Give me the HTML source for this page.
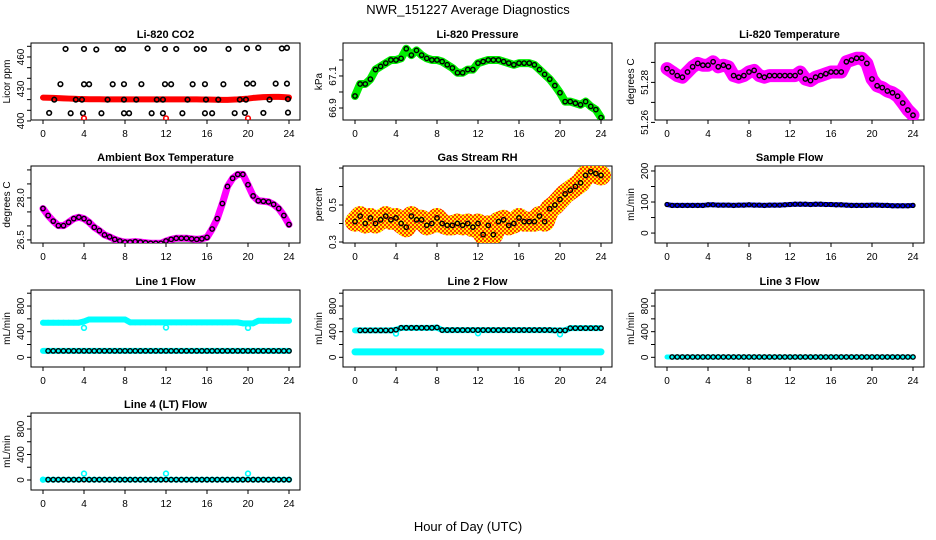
<!DOCTYPE html>
<html><head><meta charset="utf-8"><style>
body{margin:0;background:#fff;}
svg{display:block;font-family:"Liberation Sans",sans-serif;}
</style></head><body>
<svg id="chart" width="936" height="540" viewBox="0 0 936 540">
<defs>
<pattern id="checker" width="4" height="4" patternUnits="userSpaceOnUse">
<rect width="4" height="4" fill="#ffee00"/><rect width="2" height="2" fill="#ff3300"/><rect x="2" y="2" width="2" height="2" fill="#ff3300"/>
</pattern>
</defs>
<text x="468" y="14" text-anchor="middle" font-size="13">NWR_151227  Average Diagnostics</text>
<text x="468" y="531" text-anchor="middle" font-size="13">Hour of Day (UTC)</text>
</svg>
<script>
const hours = [0,0.5,1,1.5,2,2.5,3,3.5,4,4.5,5,5.5,6,6.5,7,7.5,8,8.5,9,9.5,10,10.5,11,11.5,12,12.5,13,13.5,14,14.5,15,15.5,16,16.5,17,17.5,18,18.5,19,19.5,20,20.5,21,21.5,22,22.5,23,23.5,24];
const xTicks = [0,4,8,12,16,20,24];

const co2Red = [421.9,421.8,421.6,421.4,421.2,421.0,420.8,420.6,420.5,420.4,420.3,420.3,420.2,420.2,420.2,420.2,420.2,420.2,420.2,420.2,420.2,420.2,420.2,420.2,420.2,420.2,420.2,420.2,420.2,420.2,420.2,420.1,420.1,420.0,419.9,419.8,419.8,420.0,420.2,420.6,421.0,421.6,422.0,422.3,422.5,422.6,422.6,422.3,422.0];
const co2BlackX = [2.2,4,5.2,7.3,7.8,10.2,11.9,13,15,15.7,18.1,19.9,21,23.3,23.8, 1.7,4,4.5,6.8,7.9,9.6,11.9,12.5,14.6,15.8,17.6,19.9,20.5,22.7,23.8, 1.1,3.2,3.8,6.3,7.9,9.1,11.1,11.7,14.1,15.9,17.1,19.2,19.8,22.1,23.9, 0.6,2.7,3.9,5.7,7.9,8.4,10.6,11.7,13.6,15.8,16.5,18.7,19.7,21.5,23.9];
const co2BlackY = [467.5,467.5,467,467.5,467.5,468,467.5,467.5,467.5,467.5,467.5,468,468.5,468,468.5, 434.5,434.4,434.4,434.4,434.5,434.5,434.5,434.4,434.4,434.5,434.4,435,435,435,435, 420,420,420,420,420,420,420,420,420,420,420,420,420,420,420.5, 407.5,407.2,407.2,407.2,407.2,407.2,407.2,407.2,407.2,407.2,407.2,407.3,407.5,407.5,407.8];
const co2OutlierX = [4,12,20];
const co2OutlierY = [402.5,402.5,402.5];

const pressure = [66.975,67.05,67.05,67.08,67.14,67.16,67.18,67.2,67.2,67.21,67.27,67.23,67.26,67.23,67.21,67.2,67.2,67.19,67.17,67.15,67.12,67.12,67.14,67.14,67.18,67.19,67.2,67.2,67.2,67.19,67.18,67.17,67.18,67.18,67.18,67.17,67.14,67.11,67.08,67.04,66.995,66.94,66.94,66.93,66.92,66.94,66.91,66.89,66.84];
const licorTemp = [51.2869,51.2852,51.2834,51.2826,51.2852,51.2878,51.2895,51.2886,51.2886,51.2903,51.2878,51.2886,51.2878,51.2834,51.2826,51.2834,51.2852,51.286,51.2834,51.2826,51.2834,51.2834,51.2834,51.2834,51.2834,51.2834,51.2852,51.2817,51.2809,51.2826,51.2834,51.2843,51.2852,51.2852,51.2852,51.2903,51.2912,51.2921,51.2921,51.2895,51.2817,51.2783,51.2774,51.2757,51.2748,51.2731,51.2697,51.2662,51.2636];
const ambientTemp = [27.62,27.37,27.17,27.01,27.01,27.13,27.26,27.31,27.26,27.13,26.95,26.83,26.68,26.61,26.52,26.46,26.42,26.42,26.44,26.42,26.40,26.38,26.38,26.38,26.46,26.52,26.56,26.56,26.56,26.54,26.52,26.54,26.59,26.89,27.26,27.80,28.41,28.7,28.84,28.84,28.47,28.07,27.90,27.88,27.86,27.77,27.62,27.37,27.05];
const gasRH = [0.41,0.44,0.40,0.43,0.40,0.42,0.44,0.42,0.43,0.40,0.38,0.44,0.42,0.42,0.39,0.40,0.43,0.40,0.39,0.39,0.40,0.39,0.40,0.38,0.40,0.34,0.39,0.34,0.41,0.42,0.39,0.40,0.43,0.41,0.41,0.41,0.44,0.41,0.48,0.50,0.53,0.56,0.58,0.60,0.62,0.66,0.68,0.67,0.66];
const sampleFlow = [92,89,89,89,89,89,89,89,91,91,90,90,90,89,90,90,91,90,90,89,90,90,90,91,92,93,93,93,92,93,93,92,92,91,91,90,89,89,89,89,90,90,89,89,88,88,88,88,89];
const line1Upper = [540,540,540,540,540,540,540,540,560,590,590,590,590,590,590,590,590,545,545,545,545,545,545,545,545,545,545,545,545,545,545,545,545,545,545,545,545,545,545,530,530,530,570,570,570,570,570,570,570];
const line1Lower = [100,100,100,100,100,100,100,100,100,100,100,100,100,100,100,100,100,100,100,100,100,100,100,100,100,100,100,100,100,100,100,100,100,100,100,100,100,100,100,100,100,100,100,100,100,100,100,100,100];
const line1DipX = [4,12,20];
const line1DipY = [460,465,460];
const line2Upper = [420,420,420,420,420,420,420,420,430,460,460,460,460,460,460,460,465,425,425,425,425,425,425,425,425,425,425,425,425,425,425,425,425,425,425,425,425,425,425,420,420,420,455,455,455,455,455,455,455];
const line2Lower = [85,85,85,85,85,85,85,85,85,85,85,85,85,85,85,85,85,85,85,85,85,85,85,85,85,85,85,85,85,85,85,85,85,85,85,85,85,85,85,85,85,85,85,85,85,85,85,85,85];
const line2DipX = [4,12,20];
const line2DipY = [370,375,360];
const line3Flow = [5,5,5,5,5,5,5,5,5,5,5,5,5,5,5,5,5,5,5,5,5,5,5,5,5,5,5,5,5,5,5,5,5,5,5,5,5,5,5,5,5,5,5,5,5,5,5,5,5];
const line4Cyan = [5,5,5,5,5,5,5,5,100,5,5,5,5,5,5,5,5,5,5,5,5,5,5,5,100,5,5,5,5,5,5,5,5,5,5,5,5,5,5,5,100,5,5,5,5,5,5,5,5];
const line4Black = [5,5,5,5,5,5,5,5,5,5,5,5,5,5,5,5,5,5,5,5,5,5,5,5,5,5,5,5,5,5,5,5,5,5,5,5,5,5,5,5,5,5,5,5,5,5,5,5,5];

const co2Ticks = [400,410,420,430,440,450,460,470]; const co2Labels = [400,430,460];
const presTicks = [66.9,67.0,67.1,67.2]; const presLabels = ["66.9","67.1"];
const tempTicks = [51.26,51.27,51.28,51.29]; const tempLabels = ["51.26","51.28"];
const ambTicks = [26.5,27,27.5,28,28.5,29]; const ambLabels = ["26.5","28.0"];
const rhTicks = [0.3,0.4,0.5,0.6,0.7]; const rhLabels = ["0.3","0.5"];
const sfTicks = [0,50,100,150,200]; const sfLabels = ["0","100","200"];
const flowTicks = [0,200,400,600,800,1000]; const flowLabels = ["0","400","800"];

const NS = "http://www.w3.org/2000/svg";
const svg = document.getElementById('chart');
function mk(tag, attrs, parent){ const e=document.createElementNS(NS,tag); for(const k in attrs) e.setAttribute(k,attrs[k]); (parent||svg).appendChild(e); return e; }

const colX0 = [43,355,667];
const rowTop = [43,166,290,413];
const BOXH = 77;

function panel(col,row,name,title,ylab,ymin,ymax,ticks,labels){
  const g = mk('g',{});
  
  
  const x0 = colX0[col], top = rowTop[row], bot = top+BOXH;
  const left = x0-12, right = x0+257;
  const xs = h => x0 + h/24*246;
  const ys = v => bot - (v-ymin)/(ymax-ymin)*BOXH;
  const box = mk('rect',{x:left,y:top,width:right-left,height:BOXH,fill:'none',stroke:'#000','stroke-width':1},g);
  
  
  const t = mk('text',{x:(left+right)/2,y:top-5,'text-anchor':'middle','font-size':11,'font-weight':'bold'},g);
  t.textContent = title;
  
  
  const yl = mk('text',{transform:`translate(${left-21},${top+BOXH/2}) rotate(-90)`,'text-anchor':'middle','font-size':10},g);
  yl.textContent = ylab;
  
  
  xTicks.forEach(h=>{
    mk('line',{x1:xs(h),x2:xs(h),y1:bot,y2:bot+4,stroke:'#000'},g);
    const tl = mk('text',{x:xs(h),y:bot+17,'text-anchor':'middle','font-size':10},g);
    tl.textContent = h;
    
    
  });
  ticks.forEach(v=>mk('line',{x1:left,x2:left-4,y1:ys(v),y2:ys(v),stroke:'#000'},g));
  labels.forEach(v=>{
    const tl = mk('text',{transform:`translate(${left-7},${ys(+v)}) rotate(-90)`,'text-anchor':'middle','font-size':10},g);
    tl.textContent = v;
    
    
  });
  const cp = 'clip-'+name;
  const c = mk('clipPath',{id:cp},g); mk('rect',{x:left,y:top,width:right-left,height:BOXH},c);
  const dg = mk('g',{'clip-path':`url(#${cp})`},g);
  return {xs,ys,g:dg};
}
function band(p,name,xv,yv,color,w){
  const pts = xv.map((h,i)=>p.xs(h)+','+p.ys(yv[i])).join(' ');
  const l = mk('polyline',{points:pts,fill:'none',stroke:color,'stroke-width':w,'stroke-linejoin':'round','stroke-linecap':'round'},p.g);
  
  
}
function circles(p,name,xv,yv,color,r,sw){
  xv.forEach((h,i)=>{
    const c = mk('circle',{cx:p.xs(h),cy:p.ys(yv[i]),r:r||2.3,fill:'none',stroke:color,'stroke-width':sw||1.5},p.g);
    
    
  });
}

let p;
p = panel(0,0,'co2','Li-820 CO2','Licor ppm',400.9,473.1,co2Ticks,co2Labels);
band(p,'co2-red-series',hours,co2Red,'#ff0000',6);
circles(p,'co2-black-point',co2BlackX,co2BlackY,'#000',2.3,1.6);
circles(p,'co2-red-outlier',co2OutlierX,co2OutlierY,'#ff0000',2.3,1.6);

p = panel(1,0,'pressure','Li-820 Pressure','kPa',66.825,67.306,presTicks,presLabels);
band(p,'pressure-green-band',hours,pressure,'#00ee00',8);
circles(p,'pressure-point',hours,pressure,'#000',2.2,1.4);

p = panel(2,0,'licor-temp','Li-820 Temperature','degrees C',51.2612,51.2997,tempTicks,tempLabels);
band(p,'licor-temp-band',hours,licorTemp,'#ff00ff',13);
circles(p,'licor-temp-point',hours,licorTemp,'#000',2.2,1.4);

p = panel(0,1,'ambient','Ambient Box Temperature','degrees C',26.39,29.14,ambTicks,ambLabels);
band(p,'ambient-band',hours,ambientTemp,'#ff00ff',7);
circles(p,'ambient-point',hours,ambientTemp,'#000',2.2,1.4);

p = panel(1,1,'gas-rh','Gas Stream RH','percent',0.2946,0.711,rhTicks,rhLabels);
band(p,'gas-rh-band',hours,gasRH,'url(#checker)',20);
circles(p,'gas-rh-point',hours,gasRH,'#000',2.2,1.4);

p = panel(2,1,'sample-flow','Sample Flow','mL/min',-32,216,sfTicks,sfLabels);
band(p,'sample-flow-band',hours,sampleFlow,'#0000ff',5);
circles(p,'sample-flow-point',hours,sampleFlow,'#000',2,1.3);

p = panel(0,2,'line1','Line 1 Flow','mL/min',-151,1050,flowTicks,flowLabels);
band(p,'line1-upper-band',hours,line1Upper,'#00ffff',6);
circles(p,'line1-upper-point',hours,line1Upper,'#00ffff',2.2,1.4);
circles(p,'line1-dip-point',line1DipX,line1DipY,'#00ffff',2.4,1.6);
band(p,'line1-lower-band',hours,line1Lower,'#00ffff',6);
circles(p,'line1-lower-point',hours.slice(1),line1Lower.slice(1),'#000',2.2,1.4);

p = panel(1,2,'line2','Line 2 Flow','mL/min',-151,1050,flowTicks,flowLabels);
band(p,'line2-upper-band',hours,line2Upper,'#00ffff',6);
circles(p,'line2-dip-point',line2DipX,line2DipY,'#00ffff',2.4,1.6);
circles(p,'line2-upper-point',hours.slice(1),line2Upper.slice(1),'#000',2.2,1.4);
band(p,'line2-lower-band',hours,line2Lower,'#00ffff',7);

p = panel(2,2,'line3','Line 3 Flow','mL/min',-151,1050,flowTicks,flowLabels);
band(p,'line3-band',hours,line3Flow,'#00ffff',5);
circles(p,'line3-point',hours.slice(1),line3Flow.slice(1),'#000',2.2,1.4);

p = panel(0,3,'line4','Line 4 (LT) Flow','mL/min',-157,1051,flowTicks,flowLabels);
band(p,'line4-cyan-band',hours,line4Black,'#00ffff',5);
circles(p,'line4-cyan-point',hours,line4Cyan,'#00ffff',2.4,1.6);
circles(p,'line4-black-point',hours.slice(1),line4Black.slice(1),'#000',2.2,1.4);
</script>
</body></html>
